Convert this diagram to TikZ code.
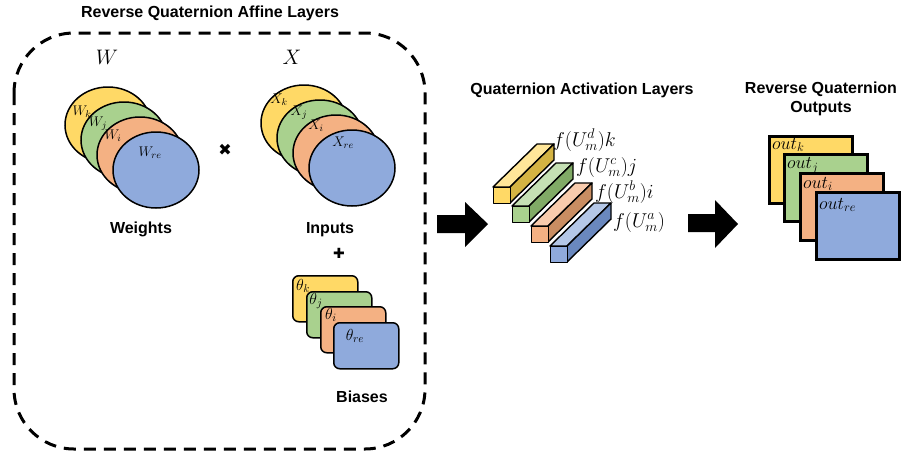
\RequirePackage{fix-cm}
\documentclass[tikz,border=0pt]{standalone}
\usepackage{fontspec}
\newfontfamily\sansb{Liberation Sans}
\newfontfamily\symf{DejaVu Sans}
\usetikzlibrary{shapes.geometric}
\definecolor{qy}{HTML}{FFD966}
\definecolor{qg}{HTML}{A9D18E}
\definecolor{qo}{HTML}{F4B183}
\definecolor{qb}{HTML}{8FAADC}
\definecolor{qyt}{HTML}{FFE699}
\definecolor{qgt}{HTML}{C5E0B4}
\definecolor{qot}{HTML}{F8CBAD}
\definecolor{qbt}{HTML}{B4C7E7}
\definecolor{qys}{HTML}{D4B343}
\definecolor{qgs}{HTML}{80AA66}
\definecolor{qos}{HTML}{C98D62}
\definecolor{qbs}{HTML}{6A88BE}
\newcommand\qbar[6]{%
  \filldraw[fill=#5] (#1,#2) -- ++(44,-43) -- ++(17,0) -- ++(-44,43) -- cycle;
  \filldraw[fill=#6] ({#1+17},#2) -- ++(44,-43) -- ++(0,16) -- ++(-44,43) -- cycle;
  \node[draw, fill=#4, line width=1.4, minimum width=17, minimum height=16, inner sep=0, anchor=north west] (#3) at (#1,#2) {};
}
\begin{document}
\begin{tikzpicture}[x=1pt,y=-1pt,
  lbl/.style={font=\sansb\bfseries\fontsize{16}{19}\selectfont, inner sep=0},
  ell/.style={ellipse, draw, line width=1.5, minimum width=86, minimum height=76, inner sep=0},
  mlab/.style={font=\fontsize{14}{16}\selectfont, inner sep=0},
  tlab/.style={font=\fontsize{16}{18}\selectfont, inner sep=0},
  blab/.style={font=\fontsize{20}{22}\selectfont, inner sep=0, anchor=west},
  brect/.style={draw, line width=1.5, rounded corners=6, minimum width=65, minimum height=46, anchor=north west, inner sep=0},
  orect/.style={draw, line width=3, minimum width=83, minimum height=67, anchor=north west, inner sep=0},
  olab/.style={font=\fontsize{18}{20}\selectfont, inner sep=0, anchor=west},
  biglab/.style={font=\fontsize{21}{24}\selectfont, inner sep=0},
  bigarrow/.style={fill=black}
]
\useasboundingbox (0,0) rectangle (907,456);

% affine layers box
\node[lbl] (title1) at (210,13) {Reverse Quaternion Affine Layers};
\draw[line width=3, dash pattern=on 12pt off 8pt, rounded corners=60] (14,33) rectangle (425,449);

% weights
\node[biglab] (Wlab) at (107,57) {$W$};
\node[ell, fill=qy] (wk) at (108,125) {};
\node[mlab] (wkl) at (82,112) {$W_k$};
\node[ell, fill=qg] (wj) at (124,140) {};
\node[mlab] (wjl) at (98,124) {$W_j$};
\node[ell, fill=qo] (wi) at (140,155) {};
\node[mlab] (wil) at (113,136) {$W_i$};
\node[ell, fill=qb] (wre) at (156,170) {};
\node[mlab] (wrel) at (150,153) {$W_{re}$};
\node[lbl] (weights) at (141,229) {Weights};

\node[font=\symf\fontsize{16}{18}\selectfont, inner sep=0] (times) at (225,150) {✖};

% inputs
\node[biglab] (Xlab) at (292,57) {$X$};
\node[ell, fill=qy] (xk) at (304,123) {};
\node[mlab] (xkl) at (279,100) {$X_k$};
\node[ell, fill=qg] (xj) at (320,138) {};
\node[mlab] (xjl) at (299,113) {$X_j$};
\node[ell, fill=qo] (xi) at (336,153) {};
\node[mlab] (xil) at (316,126) {$X_i$};
\node[ell, fill=qb] (xre) at (352,168) {};
\node[mlab] (xrel) at (343,143) {$X_{re}$};
\node[lbl] (inputs) at (330,230) {Inputs};

\node[font=\symf\fontsize{14}{16}\selectfont, inner sep=0] (plus) at (339,253) {✚};

% biases
\node[brect, fill=qy] (bk) at (292,275) {};
\node[tlab] (bkl) at (303,286) {$\theta_k$};
\node[brect, fill=qg] (bj) at (306,291) {};
\node[tlab] (bjl) at (316,301) {$\theta_j$};
\node[brect, fill=qo] (bi) at (320,306) {};
\node[tlab] (bil) at (331,315) {$\theta_i$};
\node[brect, fill=qb] (bre) at (333,322) {};
\node[tlab] (brel) at (355,336) {$\theta_{re}$};
\node[lbl] (biases) at (362,397) {Biases};

% arrow 1
\fill[bigarrow] (437,215) -- (465,215) -- (465,202) -- (488,224) -- (465,247) -- (465,233) -- (437,233) -- cycle;

% activation layers
\node[lbl] (title2) at (582,90) {Quaternion Activation Layers};
\begin{scope}[line width=1.4, line join=round]
\qbar{493}{187}{ak}{qy}{qyt}{qys}
\qbar{512}{206}{aj}{qg}{qgt}{qgs}
\qbar{531}{226}{ai}{qo}{qot}{qos}
\qbar{550}{246}{are}{qb}{qbt}{qbs}
\end{scope}
\node[blab] (akl) at (553,140) {$f(U_m^d)k$};
\node[blab] (ajl) at (576,167) {$f(U_m^c)j$};
\node[blab] (ail) at (595,192) {$f(U_m^b)i$};
\node[blab] (arel) at (613,222) {$f(U_m^a)$};

% arrow 2
\fill[bigarrow] (688,214) -- (715,214) -- (715,200) -- (738,224) -- (715,248) -- (715,232) -- (688,232) -- cycle;

% outputs
\node[lbl, align=center] (title3) at (821,99) {Reverse Quaternion\\Outputs};
\node[orect, fill=qy] (ok) at (768,135) {};
\node[olab] (okl) at (772,145) {$out_k$};
\node[orect, fill=qg] (oj) at (783,153) {};
\node[olab] (ojl) at (787,166) {$out_j$};
\node[orect, fill=qo] (oi) at (799,172) {};
\node[olab] (oil) at (803,184) {$out_i$};
\node[orect, fill=qb] (ore) at (815,191) {};
\node[olab] (orel) at (819,205) {$out_{re}$};
\end{tikzpicture}
\end{document}
